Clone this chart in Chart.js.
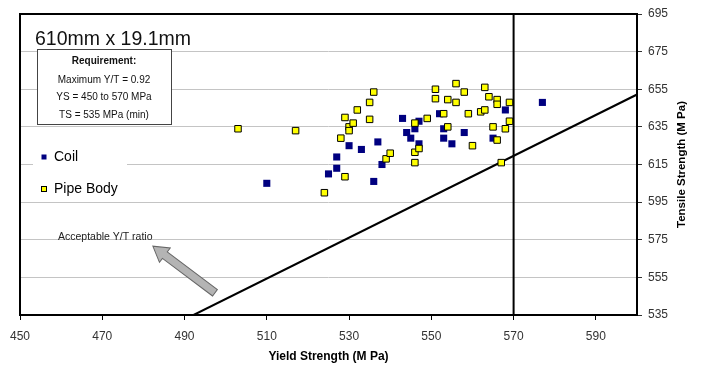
<!DOCTYPE html>
<html>
<head>
<meta charset="utf-8">
<script src="https://cdn.jsdelivr.net/npm/chart.js@4/dist/chart.umd.min.js"></script>
<style>
  body { margin: 0; background: #fff; }
  canvas { display: block; }
</style>
</head>
<body>
<canvas id="c" width="707" height="367"></canvas>
<script>
// yield strength / tensile strength pairs (MPa)
const coilYS = [510, 525, 527, 527, 530, 533, 537, 536, 538, 543, 544, 545, 546, 547, 547, 552, 553, 553, 555, 558, 565, 568, 577];
const coilTS = [605, 610, 613, 619, 625, 623, 627, 606, 615, 639.5, 632, 629, 634, 638, 626, 642, 634, 629, 626, 632, 629, 644, 648];

const pipeYS = [503, 517, 524, 528, 529, 529, 530, 530, 531, 532, 535, 535, 536, 539, 540, 546, 546, 546, 547,
                549, 551, 551, 553, 554, 554, 556, 556, 558, 559, 560, 562, 563, 563, 564, 565, 566, 566, 566,
                567, 568, 569, 569];
const pipeTS = [634, 633, 600, 629, 608.5, 640, 635, 633, 637, 644, 648, 639, 653.5, 618, 621, 637, 621.5, 616, 623.5,
                639.5, 655, 650, 642, 649.5, 635, 658, 648, 653.5, 642, 625, 643, 656, 644, 651, 635, 649.5, 647, 628,
                616, 634, 648, 638];

// Y/T = 0.92 limit and YS max 570
const ratioLineYS = [492.2, 600];
const ratioLineTS = [535, 652.2];
const ysLimitYS = [570, 570];
const ysLimitTS = [535, 695];

const xTicks = [450, 470, 490, 510, 530, 550, 570, 590];
const yTicks = [535, 555, 575, 595, 615, 635, 655, 675, 695];

const toPoints = (xs, ys) => xs.map((x, i) => ({ x: x, y: ys[i] }));
const FONT = "'Liberation Sans', Arial, sans-serif";

const overlay = {
  id: "overlay",
  afterDraw(chart) {
    const { ctx, chartArea: a, scales } = chart;
    const L = a.left, T = a.top;
    ctx.save();

    // frame
    ctx.strokeStyle = "#000";
    ctx.lineWidth = 2;
    ctx.strokeRect(a.left, a.top, a.right - a.left, a.bottom - a.top);

    // heading
    ctx.fillStyle = "#111";
    ctx.font = "19.5px " + FONT;
    ctx.textBaseline = "middle";
    ctx.textAlign = "left";
    ctx.fillText("610mm x 19.1mm", L + 15, T + 26);

    // requirement box
    ctx.fillStyle = "#fff";
    ctx.fillRect(L + 17.5, T + 35.5, 134, 75);
    ctx.strokeStyle = "#444";
    ctx.lineWidth = 1;
    ctx.strokeRect(L + 17.5, T + 35.5, 134, 75);
    ctx.fillStyle = "#111";
    ctx.textAlign = "center";
    ctx.font = "bold 10px " + FONT;
    ctx.fillText("Requirement:", L + 84, T + 47);
    ctx.font = "10px " + FONT;
    ctx.fillText("Maximum Y/T = 0.92", L + 84, T + 66);
    ctx.fillText("YS = 450 to 570 MPa", L + 84, T + 83);
    ctx.fillText("TS = 535 MPa (min)", L + 84, T + 101);

    // legend
    ctx.fillStyle = "#fff";
    ctx.fillRect(L + 13, T + 129, 94, 55);
    ctx.textAlign = "left";
    ctx.font = "14px " + FONT;
    ctx.fillStyle = "#000080";
    ctx.fillRect(L + 21.5, T + 140.5, 5, 5);
    ctx.fillStyle = "#000";
    ctx.fillText("Coil", L + 34, T + 143.5);
    ctx.fillStyle = "#ffff00";
    ctx.fillRect(L + 21.5, T + 172.5, 5, 5);
    ctx.strokeStyle = "#000";
    ctx.strokeRect(L + 21.5, T + 172.5, 5, 5);
    ctx.fillStyle = "#000";
    ctx.fillText("Pipe Body", L + 34, T + 175.5);

    // arrow (data coordinates)
    const x = scales.x, y = scales.y;
    const tx = x.getPixelForValue(482.3), ty = y.getPixelForValue(571.6);
    const sx = x.getPixelForValue(497.4), sy = y.getPixelForValue(546.8);
    const ang = Math.atan2(ty - sy, tx - sx);
    const len = Math.hypot(tx - sx, ty - sy);
    ctx.translate(sx, sy);
    ctx.rotate(ang);
    const hl = 15, sw = 4, hw = 9;
    ctx.beginPath();
    ctx.moveTo(0, -sw);
    ctx.lineTo(len - hl, -sw);
    ctx.lineTo(len - hl, -hw);
    ctx.lineTo(len, 0);
    ctx.lineTo(len - hl, hw);
    ctx.lineTo(len - hl, sw);
    ctx.lineTo(0, sw);
    ctx.closePath();
    ctx.fillStyle = "#b4b4b4";
    ctx.fill();
    ctx.strokeStyle = "#666";
    ctx.lineWidth = 1;
    ctx.stroke();
    ctx.setTransform(1, 0, 0, 1, 0, 0);

    ctx.fillStyle = "#222";
    ctx.font = "10.5px " + FONT;
    ctx.textAlign = "left";
    ctx.fillText("Acceptable Y/T ratio", L + 38, T + 223);

    // right axis title, reading upwards
    ctx.translate(682, (a.top + a.bottom) / 2);
    ctx.rotate(-Math.PI / 2);
    ctx.textAlign = "center";
    ctx.fillStyle = "#000";
    ctx.font = "bold 11.5px " + FONT;
    ctx.fillText("Tensile Strength (M Pa)", 0, 0);
    ctx.restore();
  }
};

new Chart(document.getElementById("c"), {
  type: "scatter",
  data: {
    datasets: [
      {
        label: "Pipe Body",
        data: toPoints(pipeYS, pipeTS),
        pointStyle: "rect",
        pointRadius: 4.6,
        backgroundColor: "#ffff00",
        borderColor: "#000",
        borderWidth: 1,
        order: 1
      },
      {
        label: "Coil",
        data: toPoints(coilYS, coilTS),
        pointStyle: "rect",
        pointRadius: 5,
        backgroundColor: "#000080",
        borderColor: "#000080",
        borderWidth: 0,
        order: 2
      },
      {
        label: "Y/T limit",
        data: toPoints(ratioLineYS, ratioLineTS),
        showLine: true,
        pointRadius: 0,
        borderColor: "#000",
        borderWidth: 2,
        order: 3
      },
      {
        label: "YS limit",
        data: toPoints(ysLimitYS, ysLimitTS),
        showLine: true,
        pointRadius: 0,
        borderColor: "#000",
        borderWidth: 2,
        order: 3
      }
    ]
  },
  options: {
    responsive: false,
    animation: false,
    layout: { padding: { left: 20, top: 14, right: 0, bottom: 0 } },
    plugins: {
      legend: { display: false },
      tooltip: { enabled: false }
    },
    scales: {
      x: {
        type: "linear",
        min: 450,
        max: 600,
        afterBuildTicks: (axis) => { axis.ticks = xTicks.map(v => ({ value: v })); },
        afterFit: (scale) => { scale.height = 52; },
        grid: { drawOnChartArea: false, drawTicks: true, tickLength: 5, color: "#000" },
        border: { display: false },
        ticks: { color: "#333", padding: 9, maxRotation: 0, font: { family: FONT, size: 12 } },
        title: {
          display: true,
          text: "Yield Strength (M Pa)",
          color: "#000",
          font: { family: FONT, size: 12, weight: "bold" },
          padding: { top: 0, bottom: 3 }
        }
      },
      y: {
        type: "linear",
        position: "right",
        min: 535,
        max: 695,
        afterBuildTicks: (axis) => { axis.ticks = yTicks.map(v => ({ value: v })); },
        afterFit: (scale) => { scale.width = 70; },
        grid: { color: "#c4c4c4", tickColor: "#333", tickLength: 5 },
        border: { display: false },
        ticks: { color: "#333", padding: 6, font: { family: FONT, size: 12 } }
      }
    }
  },
  plugins: [overlay]
});
</script>
</body>
</html>
